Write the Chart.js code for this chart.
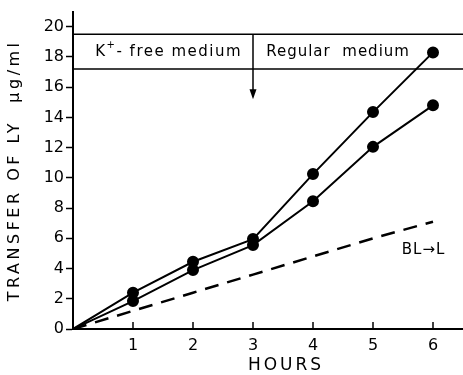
<!DOCTYPE html>
<html lang="en">
<head>
    <meta charset="UTF-8">
    <title>Transfer of LY</title>
    <script src="https://cdn.jsdelivr.net/npm/chart.js"></script>
    <style>
        html, body { margin: 0; padding: 0; background: #fff; }
        #wrap { width: 463px; height: 375px; }
    </style>
</head>
<body>
    <div id="wrap"><canvas id="lyChart" width="463" height="375"></canvas></div>

    <script>
        // data
        const hours = [0, 1, 2, 3, 4, 5, 6];
        const upperSeries = [0, 2.4, 4.45, 5.95, 10.25, 14.35, 18.3];
        const lowerSeries = [0, 1.85, 3.9, 5.55, 8.45, 12.05, 14.8];
        const blToL = [0, 1.2, 2.4, 3.6, 4.8, 6.0, 7.1];
        const xTicks = [1, 2, 3, 4, 5, 6];
        const yTicks = [0, 2, 4, 6, 8, 10, 12, 14, 16, 18, 20];
        const boxTop = 19.5, boxBottom = 17.2, switchHour = 3, arrowEnd = 15.2;

        const font = "DejaVu Sans";
        const toPoints = (ys) => hours.map((h, i) => ({ x: h, y: ys[i] }));
        const markers = hours.map(h => h === 0 ? 0 : 5);

        // inward x ticks, the medium box, labels
        const extras = {
            id: "extras",
            afterDraw(chart) {
                const c = chart.ctx, x = chart.scales.x, y = chart.scales.y;
                const area = chart.chartArea;
                c.save();
                c.strokeStyle = "#000";
                c.fillStyle = "#000";
                c.lineWidth = 1.5;
                xTicks.forEach(t => {
                    const px = x.getPixelForValue(t);
                    c.beginPath();
                    c.moveTo(px, area.bottom);
                    c.lineTo(px, area.bottom - 7);
                    c.stroke();
                });
                [boxTop, boxBottom].forEach(v => {
                    c.beginPath();
                    c.moveTo(area.left, y.getPixelForValue(v));
                    c.lineTo(area.right, y.getPixelForValue(v));
                    c.stroke();
                });
                const sx = x.getPixelForValue(switchHour);
                const tipY = y.getPixelForValue(arrowEnd);
                c.beginPath();
                c.moveTo(sx, y.getPixelForValue(boxTop));
                c.lineTo(sx, tipY - 8);
                c.stroke();
                c.beginPath();
                c.moveTo(sx - 3.5, tipY - 10);
                c.lineTo(sx + 3.5, tipY - 10);
                c.lineTo(sx, tipY);
                c.closePath();
                c.fill();

                const midY = y.getPixelForValue((boxTop + boxBottom) / 2);
                c.textBaseline = "middle";
                c.textAlign = "left";
                c.letterSpacing = "1.5px";
                c.font = "15px '" + font + "'";
                let tx = x.getPixelForValue(0.37);
                c.fillText("K", tx, midY);
                tx += c.measureText("K").width;
                c.font = "10px '" + font + "'";
                c.fillText("+", tx, midY - 6);
                tx += c.measureText("+").width;
                c.font = "15px '" + font + "'";
                c.fillText("- free medium", tx, midY);
                c.letterSpacing = "1px";
                c.fillText("Regular  medium", x.getPixelForValue(3.22), midY);
                c.fillText("BL\u2192L", x.getPixelForValue(5.48), y.getPixelForValue(5.2));

                c.textAlign = "center";
                c.letterSpacing = "3px";
                c.font = "17px '" + font + "'";
                c.fillText("HOURS", 286, 366);

                c.translate(15, (area.top + area.bottom) / 2);
                c.rotate(-Math.PI / 2);
                c.letterSpacing = "3.5px";
                c.font = "16px '" + font + "'";
                c.fillText("TRANSFER OF LY  \u00b5g/ml", 0, 0);
                c.restore();
            }
        };

        new Chart(document.getElementById("lyChart"), {
            type: "line",
            data: {
                datasets: [
                    {
                        data: toPoints(upperSeries),
                        borderColor: "#000",
                        backgroundColor: "#000",
                        borderWidth: 2,
                        pointRadius: markers,
                        tension: 0
                    },
                    {
                        data: toPoints(lowerSeries),
                        borderColor: "#000",
                        backgroundColor: "#000",
                        borderWidth: 2,
                        pointRadius: markers,
                        tension: 0
                    },
                    {
                        data: toPoints(blToL),
                        borderColor: "#000",
                        borderWidth: 2.5,
                        borderDash: [14, 9],
                        pointRadius: 0,
                        tension: 0
                    }
                ]
            },
            options: {
                responsive: false,
                animation: false,
                layout: { autoPadding: false, padding: { top: 10, right: 0, left: 0, bottom: 0 } },
                plugins: { legend: { display: false }, tooltip: { enabled: false } },
                scales: {
                    x: {
                        type: "linear",
                        min: 0,
                        max: 6.5,
                        afterBuildTicks: s => { s.ticks = xTicks.map(v => ({ value: v })); },
                        afterFit: s => { s.height = 46; s.paddingRight = 0; s.paddingLeft = 0; },
                        grid: { display: false, drawTicks: false },
                        border: { color: "#000", width: 2 },
                        ticks: { color: "#000", padding: 7, font: { family: font, size: 16 } }
                    },
                    y: {
                        min: 0,
                        max: 21,
                        afterBuildTicks: s => { s.ticks = yTicks.map(v => ({ value: v })); },
                        afterFit: s => { s.width = 73; },
                        grid: { drawOnChartArea: false, tickLength: 7, color: "#000", tickWidth: 1.5 },
                        border: { color: "#000", width: 2 },
                        ticks: { color: "#000", padding: 2, font: { family: font, size: 16 } }
                    }
                }
            },
            plugins: [extras]
        });
    </script>
</body>
</html>
